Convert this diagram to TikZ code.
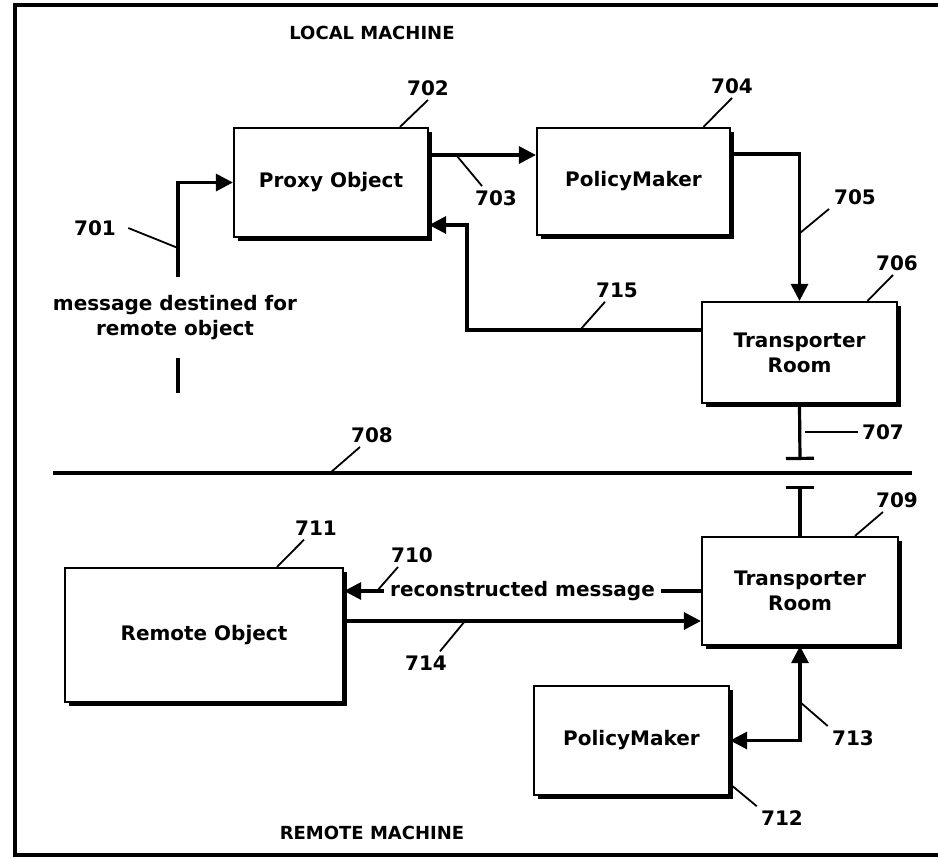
\documentclass[tikz,border=0pt]{standalone}
\usepackage{fontspec}
\setmainfont{DejaVu Sans}
\usetikzlibrary{arrows.meta,positioning,calc,shadows}
\tikzset{
  box/.style={draw=black,fill=white,line width=1.1pt,align=center,font=\bfseries\fontsize{10}{12.5}\selectfont,inner sep=2pt,
    drop shadow={shadow xshift=1.8pt,shadow yshift=-1.8pt,opacity=1,fill=black}},
  arr/.style={-{Triangle[length=8.5pt,width=8.5pt]},line width=1.6pt,draw=black},
  arrb/.style={{Triangle[length=8.5pt,width=8.5pt]}-{Triangle[length=8.5pt,width=8.5pt]},line width=1.6pt,draw=black},
  tee/.style={line width=1.6pt,draw=black},
  lead/.style={line width=0.9pt,draw=black},
  num/.style={font=\bfseries\fontsize{10}{12}\selectfont,inner sep=2pt},
  ttl/.style={font=\fontsize{9}{11}\selectfont\bfseries,inner sep=1pt},
  txt/.style={font=\bfseries\fontsize{10}{12.5}\selectfont,align=center,inner sep=1pt},
}
\begin{document}
\begin{tikzpicture}[x=0.5pt,y=-0.5pt]
  \useasboundingbox (0,0) rectangle (938,858);
  % frame
  \draw[line width=1.7pt] (938,5) -- (15,5) -- (15,855) -- (938,855);
  \node[ttl] (tlocal) at (372,33) {LOCAL MACHINE};
  \node[ttl] (tremote) at (372,833) {REMOTE MACHINE};
  % local machine
  \node[box,minimum width=97pt,minimum height=54.5pt] (proxy) at (331,182.5) {Proxy Object};
  \node[box,minimum width=96.5pt,minimum height=53.5pt] (pm1) at (633.5,181.5) {PolicyMaker};
  \node[box,minimum width=97.5pt,minimum height=50.5pt] (tr1) at (799.5,352.5) {Transporter\\Room};
  \coordinate (in1) at (178,277);
  \coordinate (st1) at (178,358);
  \coordinate (st2) at (178,393);
  \node[txt] (msg) at (175,318) {message destined for\\remote object};
  \draw[arr] (in1) |- (proxy.west);
  \draw[tee] (st1) -- (st2);
  \coordinate (c703) at (428,155);
  \draw[arr] (c703) -- (c703 -| pm1.west);
  \coordinate (c705) at (730,154);
  \draw[arr] (c705) -| (tr1.north);
  \coordinate (c715a) at (702,330);
  \coordinate (c715) at (467,225);
  \draw[arr] (c715a) -| (c715) -- (c715 -| proxy.east);
  % remote machine
  \node[box,minimum width=98pt,minimum height=54pt] (tr2) at (800,591) {Transporter\\Room};
  \node[box,minimum width=139pt,minimum height=67pt] (rem) at (204,635) {Remote Object};
  \node[box,minimum width=97.5pt,minimum height=54.5pt] (pm2) at (631.5,740.5) {PolicyMaker};
  \draw[arr] (tr2.west) -- (tr2.west -| rem.east)
    node[midway,txt,fill=white,inner xsep=3pt] (rmsg) {reconstructed message};
  \coordinate (c714) at (343,621);
  \draw[arr] (c714) -- (c714 -| tr2.west);
  \draw[arrb] (pm2.east) -| (tr2.south);
  % link between machines
  \coordinate (tee1) at (800,460);
  \coordinate (tee2) at (800,486);
  \draw[tee,-{Bar[width=14pt]}] (tr1.south) -- (tee1);
  \draw[tee,-{Bar[width=14pt]}] (tr2.north) -- (tee2);
  \coordinate (d1) at (53,473);
  \coordinate (d2) at (912,473);
  \draw[tee] (d1) -- (d2);
  % reference numerals
  \node[num] (l701) at (95,228) {701};
  \node[num] (l702) at (428,88) {702};
  \node[num] (l703) at (496,198) {703};
  \node[num] (l704) at (732,86) {704};
  \node[num] (l705) at (855,197) {705};
  \node[num] (l706) at (897,263) {706};
  \node[num] (l707) at (883,432) {707};
  \node[num] (l708) at (372,435) {708};
  \node[num] (l709) at (897,500) {709};
  \node[num] (l710) at (412,555) {710};
  \node[num] (l711) at (316,528) {711};
  \node[num] (l712) at (782,818) {712};
  \node[num] (l713) at (853,738) {713};
  \node[num] (l714) at (426,663) {714};
  \node[num] (l715) at (617,290) {715};
  \coordinate (k701) at (178,248);
  \coordinate (k703) at (457,156);
  \coordinate (k705) at (800,233);
  \coordinate (k707) at (805,432);
  \coordinate (k708) at (330,473);
  \coordinate (k710) at (377,591);
  \coordinate (k713) at (800,702);
  \coordinate (k714) at (465,621);
  \coordinate (k715) at (580,330);
  \draw[lead] ([xshift=4pt]l701.east) -- (k701);
  \draw[lead] (l702.south) -- ([xshift=34.5pt]proxy.north);
  \draw[lead] ([xshift=-7pt]l703.north) -- (k703);
  \draw[lead] (l704.south) -- ([xshift=35pt]pm1.north);
  \draw[lead] ([xshift=-13pt]l705.south) -- (k705);
  \draw[lead] ([xshift=-2pt]l706.south) -- ([xshift=34pt]tr1.north);
  \draw[lead] (l707.west) -- (k707);
  \draw[lead] ([xshift=-6pt]l708.south) -- (k708);
  \draw[lead] ([xshift=-7pt]l709.south) -- ([xshift=27.5pt]tr2.north);
  \draw[lead] ([xshift=-7pt]l710.south) -- (k710);
  \draw[lead] ([xshift=-6pt]l711.south) -- ([xshift=36.5pt]rem.north);
  \draw[lead] (l712.north west) -- ([yshift=6pt]pm2.south east);
  \draw[lead] (l713.north west) -- (k713);
  \draw[lead] ([xshift=7pt]l714.north) -- (k714);
  \draw[lead] ([xshift=-6pt]l715.south) -- (k715);
\end{tikzpicture}
\end{document}
